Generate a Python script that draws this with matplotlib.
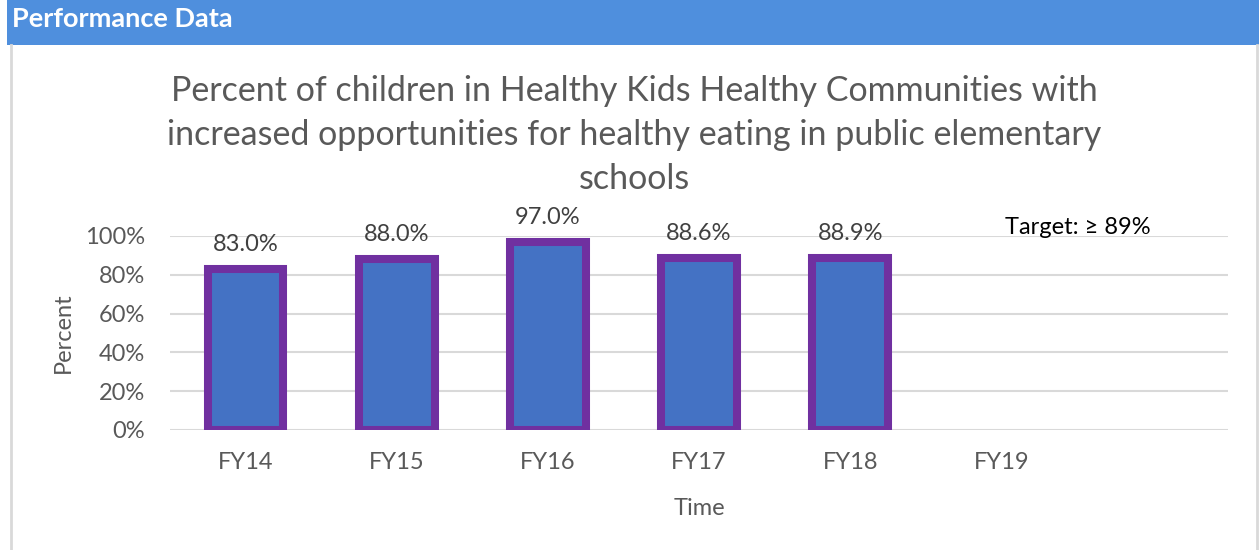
import matplotlib
matplotlib.use("Agg")
import matplotlib.pyplot as plt
from matplotlib.patches import Rectangle
from matplotlib.lines import Line2D

categories = ["FY14", "FY15", "FY16", "FY17", "FY18", "FY19", ""]
values = [83.0, 88.0, 97.0, 88.6, 88.9]
data_labels = ["83.0%", "88.0%", "97.0%", "88.6%", "88.9%"]
yticks = [0, 20, 40, 60, 80, 100]
ytick_labels = ["0%", "20%", "40%", "60%", "80%", "100%"]
title = ("Percent of children in Healthy Kids Healthy Communities with\n"
         "increased opportunities for healthy eating in public elementary\n"
         "schools")
target_text = "Target: \u2265 89%"

W, H = 1259, 550
fig = plt.figure(figsize=(W / 100, H / 100), dpi=100)
fig.patch.set_facecolor("white")
FONT = ["Lato", "DejaVu Sans"]

# header band
fig.patches.append(Rectangle((7 / W, 1 - 45 / H), 1 - 7 / W, 45 / H,
                             transform=fig.transFigure, facecolor="#4F8FDD",
                             edgecolor="none", zorder=0))
fig.text(12 / W, 1 - 19 / H, "Performance Data", color="white", fontsize=19.5,
         fontweight="bold", family=FONT, va="center", ha="left")
# frame lines
fig.lines.append(Line2D([11 / W, 11 / W], [0, 1 - 45 / H], transform=fig.transFigure,
                        color="#D9D9D9", lw=2))
fig.lines.append(Line2D([1256.5 / W, 1256.5 / W], [0, 1 - 45 / H], transform=fig.transFigure,
                        color="#D9D9D9", lw=2))

ax = fig.add_axes([170 / W, 120 / H, (1228 - 170) / W, (430 - 236) / H])
x = list(range(len(categories)))
bars = ax.bar(x[:len(values)], values, width=0.5, color="#4472C4",
              edgecolor="#7030A0", linewidth=5.8, zorder=3)
ax.set_xlim(-0.5, len(categories) - 0.5)
ax.set_ylim(0, 100)
ax.set_yticks(yticks)
ax.set_yticklabels(ytick_labels)
ax.set_xticks(x)
ax.set_xticklabels(categories)
ax.grid(axis="y", color="#D9D9D9", lw=1.5, zorder=0)
ax.set_axisbelow(True)
for s in ax.spines.values():
    s.set_visible(False)
ax.tick_params(axis="both", length=0, labelsize=17, labelcolor="#595959")
ax.tick_params(axis="y", pad=18)
ax.tick_params(axis="x", pad=16)
for lab in ax.get_xticklabels() + ax.get_yticklabels():
    lab.set_family(FONT)

for xi, v, t in zip(x, values, data_labels):
    ax.annotate(t, (xi, v), xytext=(0, 10), textcoords="offset points",
                ha="center", va="bottom", fontsize=17, color="#404040", family=FONT)

ax.set_ylabel("Percent", fontsize=17, color="#595959", family=FONT, labelpad=8)
ax.set_xlabel("Time", fontsize=17, color="#595959", family=FONT, labelpad=18)

fig.text(634 / W, 1 - 135 / H, title, ha="center", va="center", fontsize=24.5,
         color="#595959", family=FONT, linespacing=1.48)
fig.text(1005 / W, 1 - 227 / H, target_text, ha="left", va="center", fontsize=17,
         color="black", family=FONT)

fig.savefig("out.png", dpi=100)
